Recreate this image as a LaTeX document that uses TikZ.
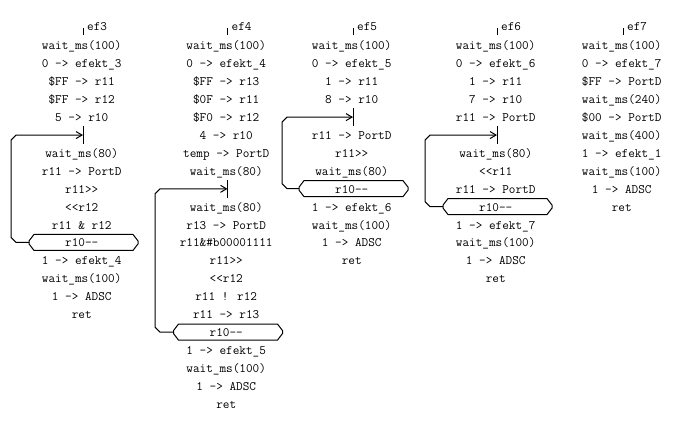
\documentclass[tikz,border=0pt]{standalone}
\usepackage{fontspec}
\usetikzlibrary{arrows.meta}
\tikzset{
  code/.style={font=\ttfamily\fontsize{12.86}{14}\selectfont, inner sep=0pt, anchor=base, text=black},
  lab/.style={code, anchor=base west},
  wire/.style={draw=black, line width=1pt},
  back/.style={wire, -{Straight Barb[length=6pt,width=7pt]}},
}
\newcommand\slotY[1]{49.7+17.93*(#1)}
\newcommand\codeln[4]{\node[code] (#1) at ({#2-1.3},{\slotY{#3}}) {#4};}
\newcommand\toptick[3]{%
  \draw[wire] (#2,28) -- (#2,35);
  \node[lab] (#1) at ({#2+4},30.7) {#3};}
\newcommand\junc[3]{%
  \pgfmathsetmacro\jy{\slotY{#3}-4.3}
  \coordinate (#1) at (#2,\jy);
  \draw[wire] (#2,{\jy-9}) -- (#2,{\jy+9});}
\newcommand\hexnode[4]{%
  \node[code] (#1) at ({#2-1.3},{\slotY{#3}}) {#4};
  \pgfmathsetmacro\hy{\slotY{#3}-4.5}
  \pgfmathsetmacro\hl{#2-54}
  \pgfmathsetmacro\hr{#2+55}
  \draw[wire] (\hl,{\hy-1.5}) -- ({\hl+5},{\hy-8}) -- ({\hr-5},{\hy-8}) -- (\hr,{\hy-1.5})
    -- (\hr,{\hy+1.5}) -- ({\hr-5},{\hy+8}) -- ({\hl+5},{\hy+8}) -- (\hl,{\hy+1.5}) -- cycle;
  \coordinate (#1l) at (\hl,\hy);}
\newcommand\loopback[5]{%
  \pgfmathsetmacro\hy{\slotY{#4}-4.5}
  \pgfmathsetmacro\jy{\slotY{#5}-4.3}
  \draw[back] (#1l) -- ({#3+5},\hy) -- (#3,{\hy-5}) -- (#3,{\jy+5}) -- ({#3+5},\jy) -- (#2);}
\begin{document}
\begin{tikzpicture}[x=1pt,y=-1pt]
\useasboundingbox (0,0) rectangle (682,428);

% ---------- ef3 ----------
\toptick{t3}{83}{ef3}
\codeln{a0}{83}{0}{wait\_ms(100)}
\codeln{a1}{83}{1}{0 -> efekt\_3}
\codeln{a2}{83}{2}{\$FF -> r11}
\codeln{a3}{83}{3}{\$FF -> r12}
\codeln{a4}{83}{4}{5 -> r10}
\junc{ja}{83}{5}
\codeln{a6}{83}{6}{wait\_ms(80)}
\codeln{a7}{83}{7}{r11 -> PortD}
\codeln{a8}{83}{8}{r11>>}
\codeln{a9}{83}{9}{<<r12}
\codeln{a10}{83}{10}{r11 \& r12}
\hexnode{ha}{83}{11}{r10--}
\codeln{a12}{83}{12}{1 -> efekt\_4}
\codeln{a13}{83}{13}{wait\_ms(100)}
\codeln{a14}{83}{14}{1 -> ADSC}
\codeln{a15}{83}{15}{ret}
\loopback{ha}{ja}{11}{11}{5}

% ---------- ef4 ----------
\toptick{t4}{227.5}{ef4}
\codeln{b0}{227.5}{0}{wait\_ms(100)}
\codeln{b1}{227.5}{1}{0 -> efekt\_4}
\codeln{b2}{227.5}{2}{\$FF -> r13}
\codeln{b3}{227.5}{3}{\$0F -> r11}
\codeln{b4}{227.5}{4}{\$F0 -> r12}
\codeln{b5}{227.5}{5}{4 -> r10}
\codeln{b6}{227.5}{6}{temp -> PortD}
\codeln{b7}{227.5}{7}{wait\_ms(80)}
\junc{jb}{227.5}{8}
\codeln{b9}{227.5}{9}{wait\_ms(80)}
\codeln{b10}{227.5}{10}{r13 -> PortD}
\codeln{b11}{227.5}{11}{r11\&\#b00001111}
\codeln{b12}{227.5}{12}{r11>>}
\codeln{b13}{227.5}{13}{<<r12}
\codeln{b14}{227.5}{14}{r11 ! r12}
\codeln{b15}{227.5}{15}{r11 -> r13}
\hexnode{hb}{227.5}{16}{r10--}
\codeln{b17}{227.5}{17}{1 -> efekt\_5}
\codeln{b18}{227.5}{18}{wait\_ms(100)}
\codeln{b19}{227.5}{19}{1 -> ADSC}
\codeln{b20}{227.5}{20}{ret}
\loopback{hb}{jb}{155}{16}{8}

% ---------- ef5 ----------
\toptick{t5}{353}{ef5}
\codeln{c0}{353}{0}{wait\_ms(100)}
\codeln{c1}{353}{1}{0 -> efekt\_5}
\codeln{c2}{353}{2}{1 -> r11}
\codeln{c3}{353}{3}{8 -> r10}
\junc{jc}{353}{4}
\codeln{c5}{353}{5}{r11 -> PortD}
\codeln{c6}{353}{6}{r11>>}
\codeln{c7}{353}{7}{wait\_ms(80)}
\hexnode{hc}{353}{8}{r10--}
\codeln{c9}{353}{9}{1 -> efekt\_6}
\codeln{c10}{353}{10}{wait\_ms(100)}
\codeln{c11}{353}{11}{1 -> ADSC}
\codeln{c12}{353}{12}{ret}
\loopback{hc}{jc}{282}{8}{4}

% ---------- ef6 ----------
\toptick{t6}{497}{ef6}
\codeln{d0}{497}{0}{wait\_ms(100)}
\codeln{d1}{497}{1}{0 -> efekt\_6}
\codeln{d2}{497}{2}{1 -> r11}
\codeln{d3}{497}{3}{7 -> r10}
\codeln{d4}{497}{4}{r11 -> PortD}
\junc{jd}{497}{5}
\codeln{d6}{497}{6}{wait\_ms(80)}
\codeln{d7}{497}{7}{<<r11}
\codeln{d8}{497}{8}{r11 -> PortD}
\hexnode{hd}{497}{9}{r10--}
\codeln{d10}{497}{10}{1 -> efekt\_7}
\codeln{d11}{497}{11}{wait\_ms(100)}
\codeln{d12}{497}{12}{1 -> ADSC}
\codeln{d13}{497}{13}{ret}
\loopback{hd}{jd}{425}{9}{5}

% ---------- ef7 ----------
\toptick{t7}{623}{ef7}
\codeln{e0}{623}{0}{wait\_ms(100)}
\codeln{e1}{623}{1}{0 -> efekt\_7}
\codeln{e2}{623}{2}{\$FF -> PortD}
\codeln{e3}{623}{3}{wait\_ms(240)}
\codeln{e4}{623}{4}{\$00 -> PortD}
\codeln{e5}{623}{5}{wait\_ms(400)}
\codeln{e6}{623}{6}{1 -> efekt\_1}
\codeln{e7}{623}{7}{wait\_ms(100)}
\codeln{e8}{623}{8}{1 -> ADSC}
\codeln{e9}{623}{9}{ret}
\end{tikzpicture}
\end{document}
